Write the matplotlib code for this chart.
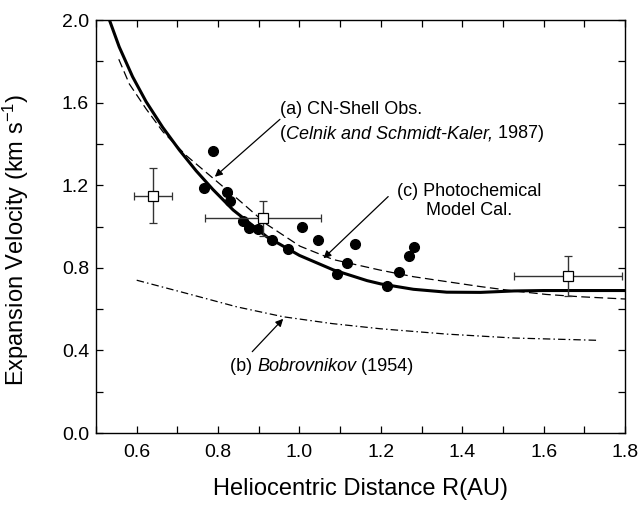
import numpy as np
import matplotlib
matplotlib.use("Agg")
import matplotlib.pyplot as plt
from matplotlib.ticker import MultipleLocator

plt.rcParams['font.family'] = ['Liberation Sans', 'DejaVu Sans']
plt.rcParams['mathtext.fontset'] = 'custom'
plt.rcParams['mathtext.rm'] = 'Liberation Sans'
plt.rcParams['mathtext.it'] = 'Liberation Sans:italic'

# CN-shell observations (filled circles)
obs_r = [0.765, 0.787, 0.822, 0.830, 0.862, 0.875, 0.898, 0.932, 0.973, 1.005,
         1.046, 1.092, 1.117, 1.137, 1.216, 1.244, 1.269, 1.282]
obs_v = [1.185, 1.365, 1.165, 1.125, 1.025, 0.995, 0.990, 0.935, 0.890, 1.000,
         0.935, 0.770, 0.825, 0.915, 0.710, 0.780, 0.855, 0.900]

# measurements with error bars (open squares)
sq_r = [0.640, 0.910, 1.660]
sq_v = [1.150, 1.040, 0.760]
sq_rerr = [0.047, 0.143, 0.132]
sq_verr = [0.135, 0.085, 0.098]

# (c) photochemical model
model_r = [0.533, 0.557, 0.590, 0.623, 0.664, 0.705, 0.746, 0.787, 0.837, 0.920,
           1.000, 1.083, 1.166, 1.200, 1.280, 1.362, 1.445, 1.527, 1.600, 1.800]
model_v = [2.000, 1.870, 1.725, 1.605, 1.480, 1.370, 1.270, 1.180, 1.080, 0.950,
           0.860, 0.790, 0.738, 0.722, 0.696, 0.682, 0.681, 0.688, 0.690, 0.690]

# (a) CN-shell fit
cn_r = [0.556, 0.582, 0.623, 0.664, 0.721, 0.787, 0.850, 0.920, 1.001, 1.083,
        1.198, 1.280, 1.362, 1.445, 1.527, 1.607, 1.689, 1.800]
cn_v = [1.810, 1.690, 1.570, 1.460, 1.345, 1.235, 1.130, 1.010, 0.905, 0.840,
        0.789, 0.757, 0.733, 0.709, 0.688, 0.671, 0.660, 0.649]

# (b) Bobrovnikov (1954)
bob_r = [0.600, 0.723, 0.846, 0.960, 1.080, 1.198, 1.362, 1.527, 1.731]
bob_v = [0.740, 0.676, 0.611, 0.563, 0.530, 0.505, 0.479, 0.460, 0.449]

fig = plt.figure(figsize=(6.4, 5.08), dpi=100)
ax = fig.add_axes([0.15, 0.1476, 0.8266, 0.813])

ax.plot(model_r, model_v, color='black', lw=2.2, solid_capstyle='butt', zorder=3)
ax.plot(cn_r, cn_v, color='black', lw=0.9, linestyle=(0, (7, 3.5)), zorder=3)
ax.plot(bob_r, bob_v, color='black', lw=0.9, linestyle=(0, (6, 2.5, 1.2, 2.5)), zorder=3)

ax.plot(obs_r, obs_v, 'o', color='black', markersize=7, zorder=4)
ax.errorbar(sq_r, sq_v, xerr=sq_rerr, yerr=sq_verr, fmt='s', mfc='white', mec='black',
            mew=0.9, markersize=6.5, ecolor='#333333', elinewidth=1.0, capsize=3.2,
            capthick=1.0, zorder=5)

ax.set_xlim(0.5, 1.8)
ax.set_ylim(0.0, 2.0)
ax.xaxis.set_minor_locator(MultipleLocator(0.1))
ax.yaxis.set_major_locator(MultipleLocator(0.4))
ax.yaxis.set_minor_locator(MultipleLocator(0.2))
ax.set_xticks(np.arange(0.6, 1.81, 0.2))
ax.xaxis.set_major_formatter(matplotlib.ticker.FormatStrFormatter('%.1f'))
ax.yaxis.set_major_formatter(matplotlib.ticker.FormatStrFormatter('%.1f'))
ax.tick_params(which='both', direction='in', top=True, right=True, length=5, width=0.9)
ax.tick_params(axis='x', which='major', pad=8, labelsize=14)
ax.tick_params(axis='y', which='major', pad=5, labelsize=14)
for s in ax.spines.values():
    s.set_linewidth(1.0)

ax.set_xlabel('Heliocentric Distance R(AU)', fontsize=17, labelpad=12)
ax.set_ylabel(r'Expansion Velocity (km s$^{-1}$)', fontsize=17)
ax.yaxis.set_label_coords(-0.122, 0.467)


def styled_line(x, y, parts, size=13):
    # write text pieces one after another, each with its own style
    prev = None
    for txt, style in parts:
        if prev is None:
            prev = ax.text(x, y, txt, fontsize=size, fontstyle=style, va='baseline', ha='left')
        else:
            prev = ax.annotate(txt, xy=(1, 0), xycoords=prev, fontsize=size,
                               fontstyle=style, va='bottom', ha='left')


arrow = dict(arrowstyle='-|>', color='black', lw=0.9, mutation_scale=11, shrinkA=0, shrinkB=0)

# (a) label and arrow
ax.text(0.952, 1.568, '(a) CN-Shell Obs.', fontsize=13, va='center', ha='left')
styled_line(0.953, 1.427, [('(', 'normal'), ('Celnik and Schmidt-Kaler,', 'italic'),
                           (' 1987)', 'normal')])
ax.annotate('', xy=(0.792, 1.241), xytext=(0.952, 1.519), arrowprops=arrow)

# (c) label and arrow
ax.text(1.416, 1.124, '(c) Photochemical\nModel Cal.', fontsize=13, va='center',
        ha='center', multialignment='center', linespacing=1.1)
ax.annotate('', xy=(1.059, 0.846), xytext=(1.218, 1.145), arrowprops=arrow)

# (b) label and arrow
styled_line(0.829, 0.298, [('(b) ', 'normal'), ('Bobrovnikov', 'italic'), (' (1954)', 'normal')])
ax.annotate('', xy=(0.960, 0.553), xytext=(0.884, 0.394), arrowprops=arrow)

fig.savefig('out.png', dpi=100)
